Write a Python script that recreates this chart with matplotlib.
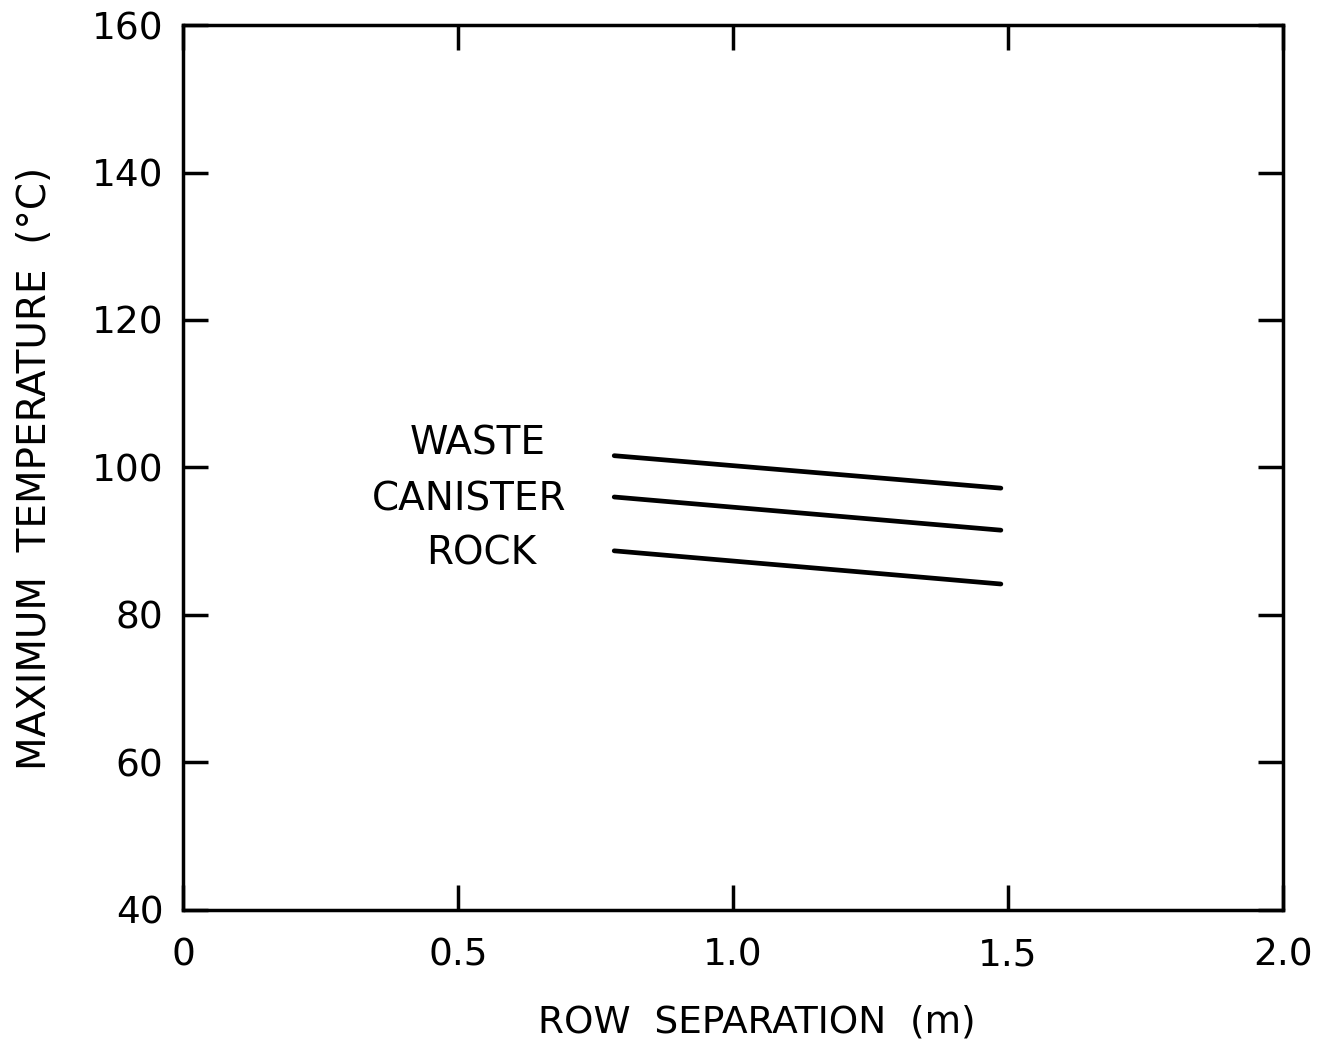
import matplotlib
matplotlib.use("Agg")
import matplotlib.pyplot as plt

# row separation (m) vs maximum temperature (C)
sep = [0.784, 1.487]
waste = [101.6, 97.2]
canister = [96.0, 91.5]
rock = [88.7, 84.2]

labels = ["WASTE", "CANISTER", "ROCK"]
label_x = [0.535, 0.52, 0.543]
label_y = [103.2, 95.6, 88.3]

xticks = [0, 0.5, 1.0, 1.5, 2.0]
xticklabels = ["0", "0.5", "1.0", "1.5", "2.0"]
yticks = [40, 60, 80, 100, 120, 140, 160]

plt.rcParams['font.family'] = ['DejaVu Sans']

fig = plt.figure(figsize=(13.23, 10.42), dpi=100)
ax = fig.add_axes([0.1383, 0.1267, 0.8315, 0.8493])

for ys in (waste, canister, rock):
    ax.plot(sep, ys, color="black", linewidth=3.4, solid_capstyle="round")

for t, x, y in zip(labels, label_x, label_y):
    ax.text(x, y, t, ha="center", va="center", fontsize=28)

ax.set_xlim(0, 2.0)
ax.set_ylim(40, 160)
ax.set_xticks(xticks)
ax.set_xticklabels(xticklabels)
ax.set_yticks(yticks)

for s in ax.spines.values():
    s.set_linewidth(2.5)

ax.tick_params(direction="in", length=18, width=2.5, labelsize=27,
               top=True, right=True)
ax.tick_params(axis="y", pad=14)
ax.tick_params(axis="x", pad=20)

ax.set_xlabel("ROW  SEPARATION  (m)", fontsize=27)
ax.set_ylabel("MAXIMUM  TEMPERATURE  (°C)", fontsize=28)
ax.xaxis.set_label_coords(0.522, -0.1266)
ax.yaxis.set_label_coords(-0.1345, 0.4994)
ax.xaxis.label.set_va("center")
ax.yaxis.label.set_va("center")

fig.savefig("out.png", dpi=100)
